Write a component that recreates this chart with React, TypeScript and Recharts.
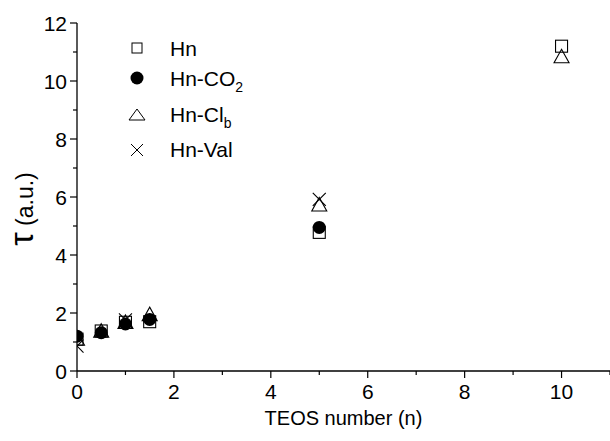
import { ScatterChart, Scatter, XAxis, YAxis, Legend } from "recharts";

const hn = [
  { n: 0, tau: 1.1 },
  { n: 0.5, tau: 1.38 },
  { n: 1, tau: 1.68 },
  { n: 1.5, tau: 1.7 },
  { n: 5, tau: 4.78 },
  { n: 10, tau: 11.2 },
];
const hnCO2 = [
  { n: 0, tau: 1.2 },
  { n: 0.5, tau: 1.32 },
  { n: 1, tau: 1.62 },
  { n: 1.5, tau: 1.78 },
  { n: 5, tau: 4.95 },
];
const hnClb = [
  { n: 0, tau: 1.12 },
  { n: 0.5, tau: 1.4 },
  { n: 1, tau: 1.7 },
  { n: 1.5, tau: 1.97 },
  { n: 5, tau: 5.75 },
  { n: 10, tau: 10.86 },
];
const hnVal = [
  { n: 0, tau: 0.86 },
  { n: 1, tau: 1.76 },
  { n: 5, tau: 5.92 },
];
const xTicks = [0, 1, 2, 3, 4, 5, 6, 7, 8, 9, 10, 11];
const yTicks = [0, 1, 2, 3, 4, 5, 6, 7, 8, 9, 10, 11, 12];

const font = "Arial, 'Liberation Sans', sans-serif";

const Square = ({ cx, cy, s = 12 }: any) => (
  <rect x={cx - s / 2} y={cy - s / 2} width={s} height={s} fill="white" fillOpacity={0} stroke="#000" strokeWidth={1.1} clipPath="url(#plotclip)" />
);
const Dot = ({ cx, cy, r = 6.5 }: any) => <circle cx={cx} cy={cy} r={r} fill="#000" clipPath="url(#plotclip)" />;
const Tri = ({ cx, cy, w = 15 }: any) => {
  const h = w * 0.9;
  return (
    <polygon
      points={`${cx},${cy - h / 2} ${cx + w / 2},${cy + h / 2} ${cx - w / 2},${cy + h / 2}`}
      fill="none"
      stroke="#000"
      strokeWidth={1.1}
      clipPath="url(#plotclip)"
    />
  );
};
const Cross = ({ cx, cy, s = 13 }: any) => (
  <g stroke="#000" strokeWidth={1.1} clipPath="url(#plotclip)">
    <line x1={cx - s / 2} y1={cy - s / 2} x2={cx + s / 2} y2={cy + s / 2} />
    <line x1={cx - s / 2} y1={cy + s / 2} x2={cx + s / 2} y2={cy - s / 2} />
  </g>
);

const XTick = ({ x, y, payload }: any) => {
  const major = payload.value % 2 === 0;
  return (
    <g>
      <line x1={x} y1={y} x2={x} y2={y + (major ? 7 : 4)} stroke="#000" strokeWidth={1.2} />
      {major && (
        <text x={x} y={y + 28} textAnchor="middle" fontSize={21} fontFamily={font} fill="#000">
          {payload.value}
        </text>
      )}
    </g>
  );
};

const YTick = ({ x, y, payload }: any) => {
  const major = payload.value % 2 === 0;
  return (
    <g>
      <line x1={x} y1={y} x2={x - (major ? 7 : 4)} y2={y} stroke="#000" strokeWidth={1.2} />
      {major && (
        <text x={x - 10} y={y + 8} textAnchor="end" fontSize={21} fontFamily={font} fill="#000">
          {payload.value}
        </text>
      )}
    </g>
  );
};

const LegendBox = () => (
  <svg width={170} height={140} style={{ display: "block" }}>
    <defs>
      <clipPath id="plotclip">
        <rect x={77} y={0} width={540} height={372} />
      </clipPath>
    </defs>
    <g fontFamily={font} fontSize={21} fill="#000">
      <rect x={12} y={10} width={10} height={10} fill="none" stroke="#000" strokeWidth={1} />
      <text x={50} y={23}>Hn</text>
      <circle cx={17} cy={45} r={6.5} fill="#000" />
      <text x={50} y={53}>
        Hn-CO<tspan fontSize={14} dy={6}>2</tspan>
      </text>
      <polygon points="17,76 25,87 9,87" fill="none" stroke="#000" strokeWidth={1} />
      <text x={50} y={89}>
        Hn-Cl<tspan fontSize={14} dy={6}>b</tspan>
      </text>
      <g stroke="#000" strokeWidth={1}>
        <line x1={11} y1={111} x2={23} y2={123} />
        <line x1={11} y1={123} x2={23} y2={111} />
      </g>
      <text x={50} y={124}>Hn-Val</text>
    </g>
  </svg>
);

export default function App() {
  return (
    <div style={{ position: "fixed", left: 0, top: 0, width: 610, height: 441, background: "#fff" }}>
      <ScatterChart width={610} height={441} margin={{ top: 23, right: 0, left: 0, bottom: 0 }}>
        <XAxis
          type="number"
          dataKey="n"
          domain={[0, 11]}
          ticks={xTicks}
          interval={0}
          allowDataOverflow
          height={70}
          tickSize={0}
          tickMargin={0}
          tick={<XTick />}
          axisLine={{ stroke: "#000", strokeWidth: 1.3 }}
          label={{ value: "TEOS number (n)", position: "insideBottom", offset: 16, fontSize: 20, fontFamily: font, fill: "#000" }}
        />
        <YAxis
          type="number"
          dataKey="tau"
          domain={[0, 12]}
          ticks={yTicks}
          interval={0}
          allowDataOverflow
          width={77}
          tickSize={0}
          tickMargin={0}
          tick={<YTick />}
          axisLine={{ stroke: "#000", strokeWidth: 1.3 }}
          label={(props: any) => {
            const vb = props.viewBox;
            const cy = vb.y + vb.height / 2 + 12;
            return (
              <text
                x={33}
                y={cy}
                transform={`rotate(-90, 33, ${cy})`}
                textAnchor="middle"
                fontFamily={font}
                fontSize={23}
                fill="#000"
              >
                <tspan fontSize={34}>τ</tspan> (a.u.)
              </text>
            );
          }}
        />
        <Legend
          layout="vertical"
          verticalAlign="middle"
          align="center"
          wrapperStyle={{ left: 120, top: 33, width: 170 }}
          content={() => <LegendBox />}
        />
        <Scatter name="Hn" data={hn} shape={<Square />} isAnimationActive={false} />
        <Scatter name="Hn-CO2" data={hnCO2} shape={<Dot />} isAnimationActive={false} />
        <Scatter name="Hn-Clb" data={hnClb} shape={<Tri />} isAnimationActive={false} />
        <Scatter name="Hn-Val" data={hnVal} shape={<Cross />} isAnimationActive={false} />
      </ScatterChart>
    </div>
  );
}
